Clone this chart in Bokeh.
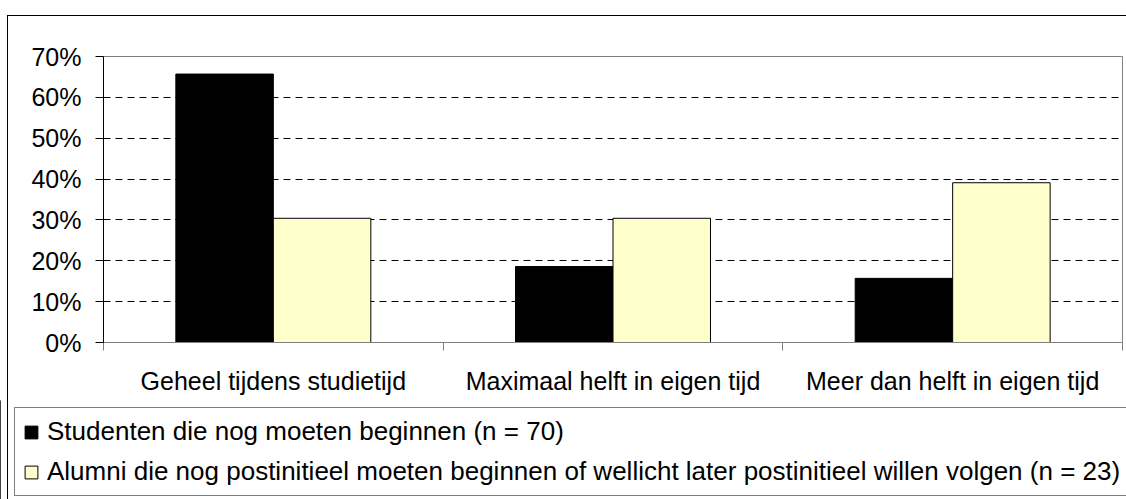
from bokeh.plotting import figure
from bokeh.models import (Range1d, FixedTicker, NumeralTickFormatter, Legend, LegendItem,
                          ColumnDataSource, InlineStyleSheet)
from bokeh.transform import dodge
from bokeh.embed import file_html
from bokeh.resources import INLINE

categories = ["Geheel tijdens studietijd", "Maximaal helft in eigen tijd", "Meer dan helft in eigen tijd"]
series_names = ["Studenten die nog moeten beginnen (n = 70)",
                "Alumni die nog postinitieel moeten beginnen of wellicht later postinitieel willen volgen (n = 23)"]
studenten = [0.657, 0.186, 0.157]
alumni = [0.304, 0.304, 0.391]
y_ticks = [0.0, 0.1, 0.2, 0.3, 0.4, 0.5, 0.6, 0.7]

FONT = "Liberation Sans"
FS = "25px"
COLORS = ["black", "#FFFFCC"]

xs = list(range(1, len(categories) + 1))
src = ColumnDataSource(dict(x=xs, cat=categories, stud=studenten, alum=alumni))

# ---------------- chart ----------------
p = figure(width=1126, height=400, x_range=Range1d(0.5, len(categories) + 0.5), y_range=Range1d(0, 0.7),
           output_backend="svg", toolbar_location=None,
           min_border_left=103, min_border_right=4, min_border_top=56, min_border_bottom=58)
p.outline_line_color = "#808080"
p.outline_line_width = 1

bw = 0.287
r1 = p.vbar(x=dodge("x", -bw / 2, range=p.x_range), top="stud", width=bw, source=src,
            fill_color=COLORS[0], line_color="black", line_width=1)
r2 = p.vbar(x=dodge("x", bw / 2, range=p.x_range), top="alum", width=bw, source=src,
            fill_color=COLORS[1], line_color="black", line_width=1)

yax = p.yaxis[0]
yax.ticker = FixedTicker(ticks=y_ticks, minor_ticks=[])
yax.formatter = NumeralTickFormatter(format="0%")
yax.axis_line_color = "black"
yax.major_tick_line_color = "black"
yax.major_tick_out = 8
yax.major_tick_in = 0
yax.minor_tick_line_color = None
yax.major_label_standoff = 14
yax.major_label_text_font = FONT
yax.major_label_text_font_size = FS
yax.major_label_text_color = "black"

xax = p.xaxis[0]
bounds = [x - 0.5 for x in xs] + [xs[-1] + 0.5]
xax.ticker = FixedTicker(ticks=xs, minor_ticks=bounds)
xax.major_label_overrides = {x: c for x, c in zip(xs, categories)}
xax.axis_line_color = "#808080"
xax.major_tick_line_color = None
xax.minor_tick_line_color = "#808080"
xax.minor_tick_out = 8
xax.minor_tick_in = 0
xax.major_label_standoff = 16
xax.major_label_text_font = FONT
xax.major_label_text_font_size = FS
xax.major_label_text_color = "black"

p.xgrid.visible = False
p.ygrid.ticker = FixedTicker(ticks=y_ticks[1:-1])
p.ygrid.grid_line_color = "black"
p.ygrid.grid_line_dash = "7 5"
p.ygrid.grid_line_width = 1

p.stylesheets = [InlineStyleSheet(css="""
:host { position: relative; }
:host::after {
  content: ""; position: absolute; left: 7px; top: 15px; right: 0px; bottom: 0px;
  border-top: 1px solid black; border-left: 1px solid black;
  pointer-events: none; z-index: 10;
}
""")]

# ---------------- legend strip ----------------
q = figure(width=1126, height=99, x_range=Range1d(0, 1), y_range=Range1d(0, 1),
           x_axis_location=None, y_axis_location=None, output_backend="svg", toolbar_location=None,
           min_border=0, min_border_left=0, min_border_right=0, min_border_top=0, min_border_bottom=0)
q.outline_line_color = None
q.grid.visible = False
# legend proxies: one point each, placed outside the visible range
lr1 = q.vbar(x=[-5], top=[1], width=0.1, fill_color=COLORS[0], line_color="black", line_width=1)
lr2 = q.vbar(x=[-5], top=[1], width=0.1, fill_color=COLORS[1], line_color="black", line_width=1)

legend = Legend(items=[LegendItem(label=series_names[0], renderers=[lr1]),
                       LegendItem(label=series_names[1], renderers=[lr2])],
                location=(14, 3), orientation="vertical",
                glyph_width=16, glyph_height=16, label_height=29, spacing=9,
                padding=8, margin=0, label_standoff=8,
                label_text_font=FONT, label_text_font_size="26px", label_text_color="black",
                border_line_color="black", border_line_width=1,
                background_fill_color="white", background_fill_alpha=1)
q.add_layout(legend, "center")

q.stylesheets = [InlineStyleSheet(css="""
:host { position: relative; }
:host::after {
  content: ""; position: absolute; left: 7px; top: 0px; right: 0px; bottom: 0px;
  border-left: 1px solid black;
  pointer-events: none; z-index: 10;
}
""")]

open("out.html", "w").write(file_html([p, q], INLINE))
